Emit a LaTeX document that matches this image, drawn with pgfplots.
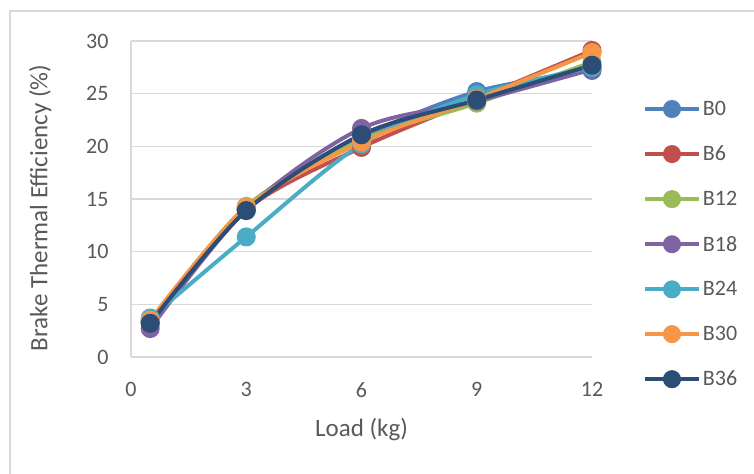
\documentclass[border=0pt]{standalone}
\usepackage{pgfplots}
\pgfplotsset{compat=1.18}
\usepackage{fontspec}
\setmainfont{Carlito}

\definecolor{txt}{RGB}{89,89,89}
\definecolor{gridc}{RGB}{217,217,217}
\definecolor{cB0}{HTML}{4F81BD}
\definecolor{cB6}{HTML}{C0504D}
\definecolor{cB12}{HTML}{9BBB59}
\definecolor{cB18}{HTML}{8064A2}
\definecolor{cB24}{HTML}{4BACC6}
\definecolor{cB30}{HTML}{F79646}
\definecolor{cB36}{HTML}{2C4D75}

\begin{document}
\begin{tikzpicture}
\useasboundingbox (0,0) rectangle (754bp,474bp);
% outer chart frame
\draw[gridc, line width=1.5bp] (10bp,-10bp) -- (10bp,463bp) -- (780bp,463bp);

\begin{axis}[
  at={(131bp,117bp)}, anchor=south west,
  scale only axis, width=461bp, height=316bp,
  xmin=0, xmax=12, ymin=0, ymax=30,
  xtick={0,3,6,9,12}, ytick={0,5,...,30},
  axis line style={gridc, line width=1.2bp},
  axis x line*=bottom, axis y line*=left,
  ymajorgrids, grid style={gridc, line width=1.2bp},
  major tick length=0pt,
  tick label style={font=\fontsize{22bp}{25bp}\selectfont, text=txt},
  /pgf/number format/assume math mode=true,
  xticklabel style={yshift=-22bp},
  yticklabel style={xshift=-19bp},
  xlabel={Load (kg)}, ylabel={Brake Thermal Efficiency (\%)},
  label style={font=\fontsize{25bp}{28bp}\selectfont, text=txt},
  xlabel style={yshift=-14bp},
  ylabel style={yshift=28bp, xshift=-9bp},
  every axis plot/.append style={smooth, line width=4bp, mark=*, mark size=7.5bp},
  legend style={at={(1.1106,0.816)}, anchor=north west, draw=none, fill=none,
    inner sep=0pt, outer sep=0pt,
    font=\fontsize{22bp}{25bp}\selectfont, text=txt, row sep=25bp,
    cells={anchor=west}},
  legend image code/.code={%
    \draw[mark repeat=2, mark phase=2, #1, mark size=7bp]
      plot coordinates {(0bp,0bp) (27bp,0bp) (54bp,0bp)};},
  clip=false,
]
\addplot[color=cB0] coordinates {(0.5,3.4) (3,14.1) (6,20.8) (9,25.2) (12,27.2)};
\addlegendentry{B0}
\addplot[color=cB6] coordinates {(0.5,3.3) (3,14.0) (6,19.9) (9,24.5) (12,29.1)};
\addlegendentry{B6}
\addplot[color=cB12] coordinates {(0.5,3.3) (3,14.3) (6,20.6) (9,24.1) (12,28.0)};
\addlegendentry{B12}
\addplot[color=cB18] coordinates {(0.5,2.7) (3,14.0) (6,21.7) (9,24.3) (12,27.3)};
\addlegendentry{B18}
\addplot[color=cB24] coordinates {(0.5,3.7) (3,11.4) (6,20.2) (9,24.9) (12,27.5)};
\addlegendentry{B24}
\addplot[color=cB30] coordinates {(0.5,3.5) (3,14.2) (6,20.4) (9,24.5) (12,28.9)};
\addlegendentry{B30}
\addplot[color=cB36] coordinates {(0.5,3.2) (3,13.9) (6,21.1) (9,24.4) (12,27.7)};
\addlegendentry{B36}
\end{axis}
\end{tikzpicture}
\end{document}
